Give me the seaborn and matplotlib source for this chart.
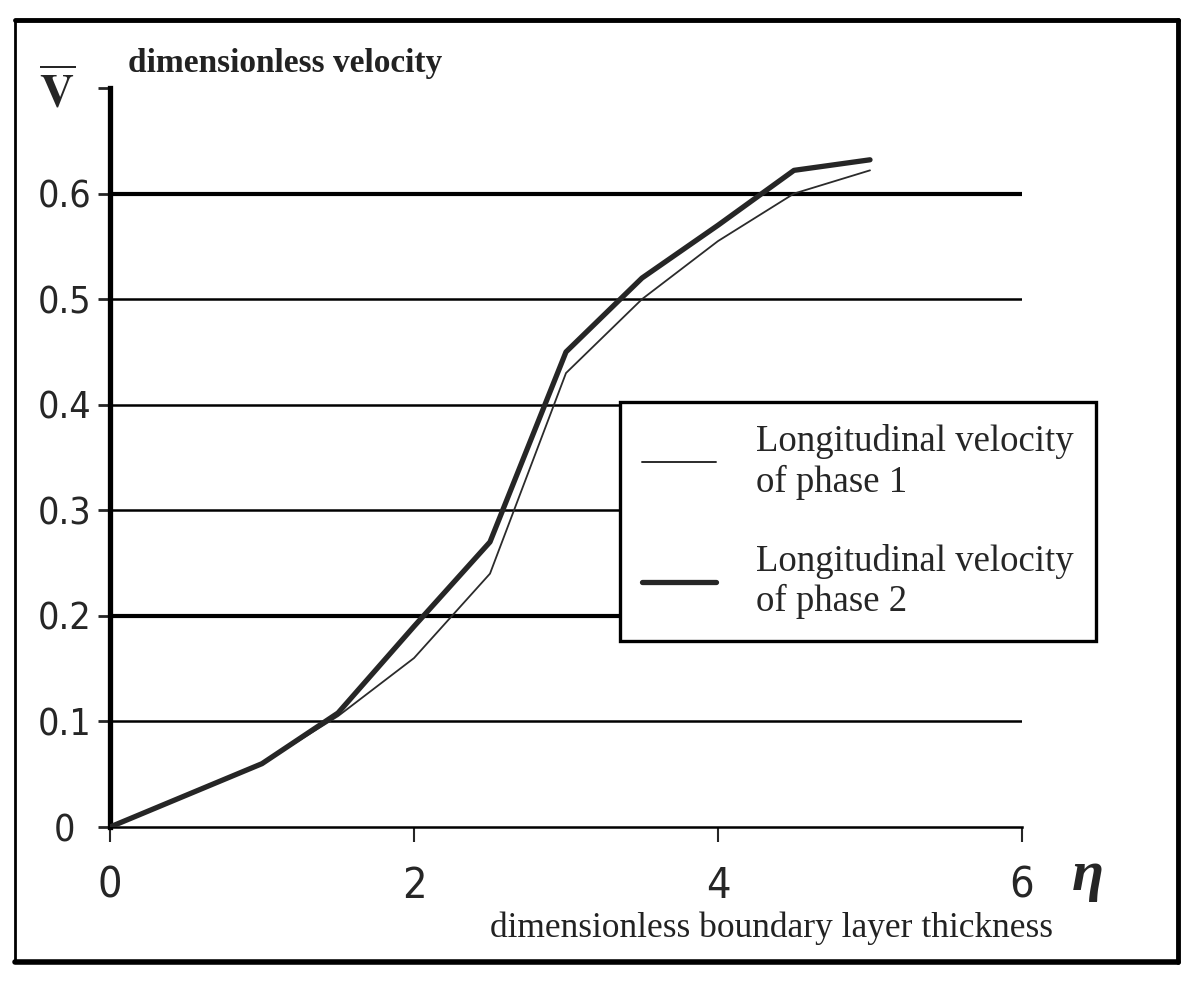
import matplotlib
matplotlib.use("Agg")
import matplotlib.pyplot as plt
from matplotlib import font_manager
from matplotlib.font_manager import FontProperties
from matplotlib.lines import Line2D
import seaborn as sns
import pandas as pd

# ---- data ----
eta = [0.0, 0.5, 1.0, 1.5, 2.0, 2.5, 3.0, 3.5, 4.0, 4.5, 5.0]
v_phase1 = [0.0, 0.030, 0.060, 0.105, 0.160, 0.240, 0.430, 0.500, 0.555, 0.600, 0.622]
v_phase2 = [0.0, 0.030, 0.060, 0.108, 0.190, 0.270, 0.450, 0.520, 0.570, 0.622, 0.632]
series_names = ["Longitudinal velocity\nof phase 1", "Longitudinal velocity\nof phase 2"]
y_ticks = [0.0, 0.1, 0.2, 0.3, 0.4, 0.5, 0.6, 0.7]
y_ticklabels = ["0", "0.1", "0.2", "0.3", "0.4", "0.5", "0.6", ""]
x_ticks = [0, 2, 4, 6]
x_ticklabels = ["0", "2", "4", "6"]
grid_levels = [0.1, 0.2, 0.3, 0.4, 0.5, 0.6]

df = pd.DataFrame({
    "eta": eta * 2,
    "v": v_phase1 + v_phase2,
    "series": [series_names[0]] * len(eta) + [series_names[1]] * len(eta),
})

sns.set_style("white")
serif = "Liberation Serif"
plt.rcParams["font.family"] = [serif, "DejaVu Serif"]
plt.rcParams["mathtext.fontset"] = "stix"

# pick a narrow sans for tick labels if one is available
tick_fp = None
candidates = [dict(family="Liberation Sans Narrow"),
              dict(family="DejaVu Sans", stretch="condensed"),
              dict(family="Noto Sans", stretch="condensed"),
              dict(family="Roboto Condensed"),
              dict(family="Open Sans", stretch="condensed")]
for c in candidates:
    try:
        fp = FontProperties(**c)
        path = font_manager.findfont(fp, fallback_to_default=False)
        low = path.lower()
        if "narrow" in low or "condensed" in low or "cond" in low:
            tick_fp = path
            break
    except Exception:
        pass
if tick_fp is None:
    tick_font = dict(family="DejaVu Sans")
    narrow_ok = False
else:
    tick_font = dict(fname=tick_fp)
    narrow_ok = True

fig = plt.figure(figsize=(12, 9.84), dpi=100)
ax = fig.add_axes([110 / 1200, 1 - 827 / 984, 912 / 1200, 739 / 984])

# grid lines
grid_widths = {0.2: 3.0, 0.6: 3.0}
for g in grid_levels:
    ax.axhline(g, color="black", lw=grid_widths.get(g, 1.8), zorder=1)

sns.lineplot(data=df, x="eta", y="v", hue="series", size="series",
             sizes={series_names[0]: 1.3, series_names[1]: 3.8},
             palette={series_names[0]: "#2b2b2b", series_names[1]: "#262626"},
             ax=ax, legend=False, zorder=3)

ax.set_xlim(0, 6)
ax.set_ylim(0, 0.7)
ax.set_xlabel("")
ax.set_ylabel("")
for s in ["top", "right"]:
    ax.spines[s].set_visible(False)
ax.spines["left"].set_linewidth(3.8)
ax.spines["bottom"].set_linewidth(1.8)
ax.spines["left"].set_color("black")
ax.spines["bottom"].set_color("black")

ysize = 27 if narrow_ok else 23
xsize = 31 if narrow_ok else 26
yfp = FontProperties(size=ysize, **tick_font)
xfp = FontProperties(size=xsize, **tick_font)
ax.set_yticks(y_ticks)
ax.set_yticklabels(y_ticklabels, fontproperties=yfp, ha="center")
ax.tick_params(axis="y", direction="out", length=9, width=2.0, pad=24, left=True)
ax.set_xticks(x_ticks)
ax.set_xticklabels(x_ticklabels, fontproperties=xfp)
ax.tick_params(axis="x", direction="out", length=11, width=1.5, pad=16, bottom=True)

# legend
handles = [Line2D([0], [0], color="#2b2b2b", lw=1.4),
           Line2D([0], [0], color="#262626", lw=3.8)]
leg = ax.legend(handles, series_names, loc="upper left",
                bbox_to_anchor=(620 / 1200, 1 - 402 / 984), bbox_transform=fig.transFigure,
                borderaxespad=0.0,
                frameon=True, fancybox=False, framealpha=1.0, handlelength=2.0,
                labelspacing=1.2, borderpad=0.6, handletextpad=1.1,
                prop={"family": serif, "size": 26.5})
leg.get_frame().set_edgecolor("black")
leg.get_frame().set_facecolor("white")
leg.get_frame().set_linewidth(2.4)
leg.set_zorder(5)

# annotations
fig.text(128 / 1200, 1 - 72 / 984, "dimensionless velocity", fontsize=24,
         fontweight="semibold", ha="left", va="baseline", color="#222222")
fig.text(57 / 1200, 1 - 107 / 984, r"$\overline{\mathbf{V}}$", fontsize=34,
         ha="center", va="baseline")
fig.text(490 / 1200, 1 - 937 / 984, "dimensionless boundary layer thickness", fontsize=25.5,
         ha="left", va="baseline", color="#222222")
fig.text(1088 / 1200, 1 - 890 / 984, "η", fontsize=42,
         fontweight="bold", fontstyle="italic", ha="center", va="baseline")

# outer frame
def fl(x0, y0, x1, y1, lw):
    fig.add_artist(Line2D([x0 / 1200, x1 / 1200], [1 - y0 / 984, 1 - y1 / 984],
                          color="black", lw=lw, transform=fig.transFigure))
fl(15, 20, 1178, 20, 3.5)
fl(1178, 20, 1178, 962, 3.5)
fl(15, 962, 1178, 962, 4.0)
fl(15, 20, 15, 962, 2.0)

fig.savefig("out.png", dpi=100)
